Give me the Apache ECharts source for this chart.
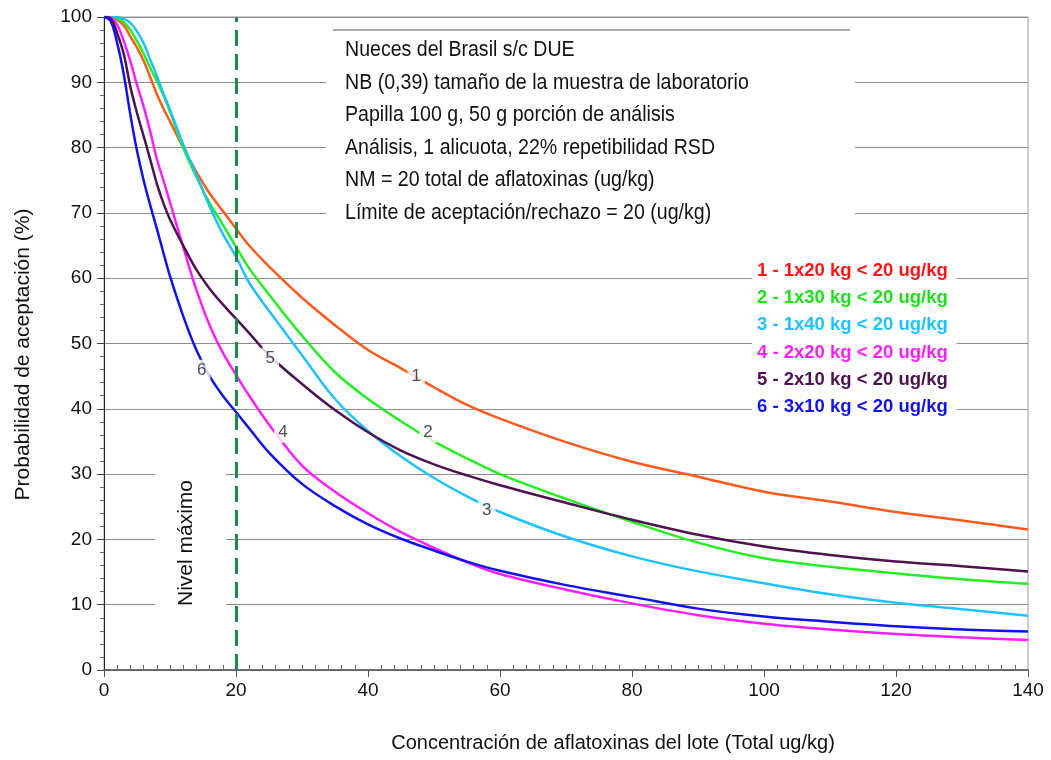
<!DOCTYPE html>
<html>
<head>
<meta charset="utf-8">
<script src="https://cdn.jsdelivr.net/npm/echarts@6/dist/echarts.min.js"></script>
<style>
  html, body { margin: 0; padding: 0; background: #fff; }
  #chart { width: 1051px; height: 760px; }
</style>
</head>
<body>
<div id="chart"></div>
<script>
// concentración (ug/kg) en la que se leen las curvas
const conc = [0, 1, 2, 3, 4, 5, 6, 7, 8, 9, 10, 12, 14, 16, 18, 20, 22, 25, 30, 35, 40, 45, 50, 55, 60, 70, 80, 90, 100, 110, 120, 130, 140];

// probabilidad de aceptación (%) por plan de muestreo
const plan1 = [100, 100, 99.6, 98.7, 97, 95.3, 93.3, 90.8, 88.2, 86, 84, 80, 76.3, 73, 70.3, 67.6, 65.0, 61.8, 57.0, 52.8, 49.0, 46.2, 43.3, 40.6, 38.5, 34.9, 31.9, 29.6, 27.3, 25.8, 24.2, 22.9, 21.5];
const plan2 = [100, 100, 99.8, 99.2, 98, 96.3, 94.4, 92.2, 90.2, 88, 85.5, 80, 75.5, 71.5, 68.2, 64.8, 61.5, 57.5, 51.2, 45.6, 41.5, 38.1, 35, 32.4, 30, 26.2, 22.7, 19.5, 17.1, 15.8, 14.8, 13.9, 13.2];
const plan3 = [100, 100, 100, 99.7, 99.1, 97.8, 96, 93.5, 91, 88.3, 85.8, 80.5, 75.8, 71, 66.8, 63.3, 59.3, 55, 48.2, 41.5, 36.6, 32.7, 29.4, 26.6, 24.2, 20.4, 17.4, 15.1, 13.3, 11.6, 10.3, 9.3, 8.3];
const plan4 = [100, 99.9, 98.8, 96.3, 93.2, 89.6, 86.3, 82.5, 78.3, 75, 71.6, 64.8, 58.2, 52.8, 48.6, 45.2, 42, 37.6, 31.3, 27.3, 24.0, 21.1, 18.7, 16.5, 14.7, 12.3, 10.2, 8.4, 7.1, 6.2, 5.5, 5.0, 4.6];
const plan5 = [100, 99.8, 97.5, 94.3, 89.3, 85.3, 81.8, 78.2, 74.5, 71.5, 69, 65, 61.3, 58.4, 56, 53.8, 51.6, 48.2, 43.8, 39.8, 36.4, 33.6, 31.5, 29.8, 28.3, 25.6, 23, 20.7, 18.9, 17.6, 16.6, 15.9, 15.1];
const plan6 = [100, 99.4, 96, 91.2, 85, 79.5, 75, 71.2, 67.6, 63.9, 60.3, 54.2, 49, 45, 42, 39.5, 37, 33.3, 28.5, 25.1, 22.3, 20.1, 18.3, 16.6, 15.2, 13, 11.2, 9.4, 8.2, 7.4, 6.7, 6.2, 5.9];

const planNames = [
  "1 - 1x20 kg < 20 ug/kg",
  "2 - 1x30 kg < 20 ug/kg",
  "3 - 1x40 kg < 20 ug/kg",
  "4 - 2x20 kg < 20 ug/kg",
  "5 - 2x10 kg < 20 ug/kg",
  "6 - 3x10 kg < 20 ug/kg"
];

// número de cada curva y dónde se escribe
const curveTags = ["1", "2", "3", "4", "5", "6"];
const tagConc = [47.3, 49.1, 58, 27.1, 25.2, 14.8];
const tagProb = [44.9, 36.4, 24.5, 36.4, 47.8, 45.9];

const nivelMaximo = 20;

const xTicks = [0, 20, 40, 60, 80, 100, 120, 140];
const yTicks = [0, 10, 20, 30, 40, 50, 60, 70, 80, 90, 100];

const infoLines = [
  "Nueces del Brasil s/c DUE",
  "NB (0,39) tamaño de la muestra de laboratorio",
  "Papilla 100 g, 50 g porción de análisis",
  "Análisis, 1 alicuota, 22% repetibilidad RSD",
  "NM = 20 total de aflatoxinas (ug/kg)",
  "Límite de aceptación/rechazo = 20 (ug/kg)"
];

const lineColors = ["#ff5a1e", "#22ee22", "#1fc1ff", "#ff1eff", "#4d1250", "#1212ee"];
const legendColors = ["#ff1414", "#1ee01e", "#1fc1ff", "#ff1eff", "#4d1250", "#1212ee"];
const FONT = "'Liberation Sans', Arial, sans-serif";

let myChart = echarts.init(document.getElementById("chart"));

const plans = [plan1, plan2, plan3, plan4, plan5, plan6];
const series = plans.map((p, i) => ({
  name: planNames[i],
  type: "line",
  smooth: 0.35,
  showSymbol: false,
  symbol: "none",
  z: 3,
  lineStyle: { color: lineColors[i], width: 2.5 },
  itemStyle: { color: lineColors[i] },
  data: conc.map((c, j) => [c, p[j]])
}));

series[0].markLine = {
  silent: true,
  symbol: "none",
  label: { show: false },
  lineStyle: { color: "#1f8a4c", width: 3, type: [16, 8] },
  data: [{ xAxis: nivelMaximo }]
};

series.push({
  name: "tags",
  type: "scatter",
  symbolSize: 1,
  z: 6,
  itemStyle: { color: "rgba(0,0,0,0)" },
  label: {
    show: true,
    position: "inside",
    formatter: p => curveTags[p.dataIndex],
    backgroundColor: "#fff",
    padding: [2, 4],
    color: "#222",
    fontSize: 17,
    fontFamily: FONT
  },
  data: tagConc.map((c, i) => [c, tagProb[i]])
});

let option = {
  animation: false,
  backgroundColor: "#fff",
  grid: {
    left: 104,
    right: 23,
    top: 17,
    bottom: 90,
    show: true,
    borderColor: "#9a9a9a",
    borderWidth: 1
  },
  legend: {
    data: planNames.map((n, i) => ({ name: n, textStyle: { color: legendColors[i] } })),
    orient: "vertical",
    left: 752,
    top: 257,
    icon: "none",
    itemWidth: 0,
    itemHeight: 20,
    itemGap: 7.2,
    padding: [4, 9, 4, 0],
    backgroundColor: "#fff",
    selectedMode: false,
    textStyle: {
      fontFamily: FONT,
      fontWeight: "bold",
      fontSize: 18.5,
      lineHeight: 20
    }
  },
  xAxis: {
    type: "value",
    min: xTicks[0],
    max: xTicks[xTicks.length - 1],
    interval: 20,
    name: "Concentración de aflatoxinas del lote (Total ug/kg)",
    nameLocation: "middle",
    nameGap: 63,
    nameTextStyle: { fontFamily: FONT, fontSize: 20, color: "#111", padding: [0, 0, 0, 94] },
    axisLine: { lineStyle: { color: "#555", width: 1.5 } },
    axisTick: { length: 7, lineStyle: { color: "#555" } },
    minorTick: { show: true, splitNumber: 10, length: -5, lineStyle: { color: "#666" } },
    axisLabel: { fontFamily: FONT, fontSize: 19, color: "#111", margin: 11 },
    splitLine: { show: false }
  },
  yAxis: {
    type: "value",
    min: yTicks[0],
    max: yTicks[yTicks.length - 1],
    interval: 10,
    name: "Probabilidad de aceptación (%)",
    nameLocation: "middle",
    nameGap: 70,
    nameTextStyle: { fontFamily: FONT, fontSize: 21, color: "#111", padding: [0, 22, 0, 0] },
    axisLine: { lineStyle: { color: "#222", width: 1 } },
    axisTick: { length: 7, lineStyle: { color: "#444" } },
    minorTick: { show: true, splitNumber: 5, length: 4, lineStyle: { color: "#666" } },
    axisLabel: { fontFamily: FONT, fontSize: 19, color: "#111", margin: 12 },
    splitLine: { show: true, lineStyle: { color: "#8c8c8c", width: 1 } }
  },
  graphic: [
    { type: "rect", z: 1, shape: { x: 326, y: 30, width: 529, height: 194 }, style: { fill: "#fff" } },
    { type: "line", z: 1, shape: { x1: 333, y1: 30, x2: 850, y2: 30 }, style: { stroke: "#8c8c8c", lineWidth: 1.5 } },
    {
      type: "text", z: 2, x: 345, y: 33.7, scaleX: 0.89,
      style: { text: infoLines.join("\n"), font: "22px " + FONT, lineHeight: 32.6, fill: "#111", verticalAlign: "top" }
    },
    { type: "rect", z: 1, shape: { x: 155, y: 462, width: 71, height: 156 }, style: { fill: "#fff" } },
    {
      type: "text", z: 2, x: 186, y: 543, rotation: Math.PI / 2,
      style: { text: "Nivel máximo", font: "21px " + FONT, fill: "#111", align: "center", verticalAlign: "middle" }
    }
  ],
  series: series
};

myChart.setOption(option);
window.addEventListener("resize", () => myChart.resize(), false);
</script>
</body>
</html>
